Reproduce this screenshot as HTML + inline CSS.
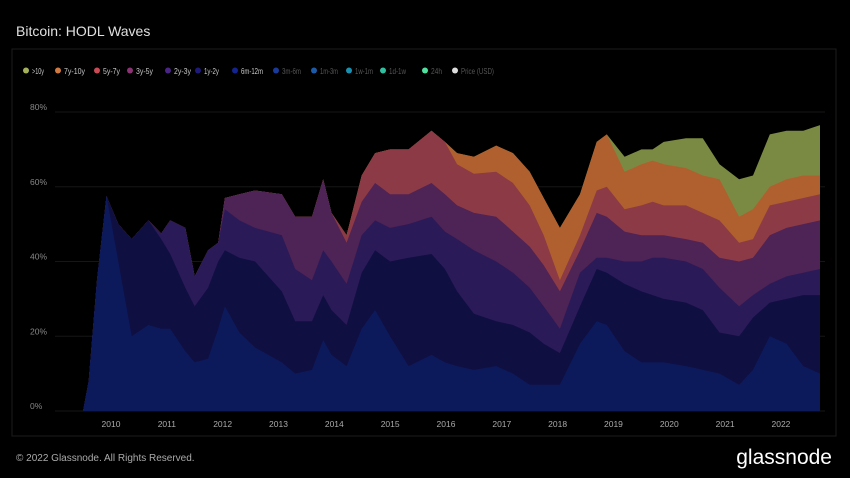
<!DOCTYPE html>
<html><head><meta charset="utf-8"><style>
html,body{margin:0;padding:0;background:#000;}
svg{display:block;font-family:"Liberation Sans",sans-serif;}
</style></head><body>
<svg id="chart" width="850" height="478" viewBox="0 0 850 478">
<rect x="0" y="0" width="850" height="478" fill="#000"/>
<text x="16" y="36" font-size="14" fill="#e0e0e0">Bitcoin: HODL Waves</text>
<rect x="12" y="49" width="824" height="387" fill="none" stroke="#1c1c1c"/>
<g id="legend"></g>
<g id="grid"></g>
<text x="425" y="262" font-size="60" fill="#fff" fill-opacity="0.05" text-anchor="middle">glassnode</text>
<g id="areas"></g>
<g id="xaxis"></g>
<text x="16" y="461" font-size="10" fill="#aaa">© 2022 Glassnode. All Rights Reserved.</text>
<text x="832" y="464" font-size="21" fill="#fff" text-anchor="end">glassnode</text>
</svg>
<script>
const years=[2009.5,2009.6,2009.75,2009.92,2010.13,2010.37,2010.67,2010.9,2011.06,2011.33,2011.5,2011.74,2011.92,2012.04,2012.3,2012.58,2013.06,2013.3,2013.6,2013.8,2013.95,2014.22,2014.49,2014.73,2015.0,2015.33,2015.74,2015.98,2016.2,2016.5,2016.9,2017.2,2017.5,2017.75,2018.04,2018.4,2018.7,2018.88,2019.2,2019.5,2019.7,2019.9,2020.3,2020.6,2020.9,2021.25,2021.5,2021.8,2022.1,2022.4,2022.7];
// cumulative top (%) of each band, bottom to top
const cum6m12m=[0,8,35,57.5,40,20,23,22,22,16,13,14,22,28,21,17,13,10,11,19,15,12,22,27,20,12,15,13,12,11,12,10,7,7,7,18,24,23,16,13,13,13,12,11,10,7,11,20,18,12,10];
const cum1y2y=[0,8,35,57.5,50,46,51,46,42,33,28,33,40,43,41,40,32,24,24,31,27,23,37,43,40,41,42,38,32,26,24,23,21,18,15.5,28,38,37,34,32,31,30,29,27,21,20,25,29,30,31,31];
const cum2y3y=[0,8,35,57.5,50,46,51,47.5,51,49,36,43,45,54,51,49,47,38,35,43,40,34,47,51,49,50,52,48,46,43,40,37,33,28,22,37,41,41,40,40,41,41,40,38,33,28,31,34,36,37,38];
const cum3y5y=[0,8,35,57.5,50,46,51,47.5,51,49,36,43,45,57,58,59,58,52,52,62,53,45,56,61,58,58,61,58,55,53,52,48,44,39,32,43,53,52,48,47,47,47,46,45,41,40,41,47,49,50,51];
const cum5y7y=[0,8,35,57.5,50,46,51,47.5,51,49,36,43,45,57,58,59,58,52,52,62,53,47,63,69,70,70,75,72,66,63.5,64,61,55,47,35,47,59,60,54,55,56,55,55,53,51,45,46,55,56,57,58];
const cum7y10y=[0,8,35,57.5,50,46,51,47.5,51,49,36,43,45,57,58,59,58,52,52,62,53,47,63,69,70,70,75,72,69,68,71,69,64,57,49,58,72,74,64,66,67,66,65,63,62,52,54,60,62,63,63];
const cum10y=[0,8,35,57.5,50,46,51,47.5,51,49,36,43,45,57,58,59,58,52,52,62,53,47,63,69,70,70,75,72,69,68,71,69,64,57,49,58,72,74,68,70,70,72,73,73,66,62,63,74,75,75,76.5];
const yTicks=[0,20,40,60,80];
const xTicks=[2010,2011,2012,2013,2014,2015,2016,2017,2018,2019,2020,2021,2022];
const legendLabels=[">10y","7y-10y","5y-7y","3y-5y","2y-3y","1y-2y","6m-12m","3m-6m","1m-3m","1w-1m","1d-1w","24h","Price (USD)"];

const NS="http://www.w3.org/2000/svg";
const xS=y=>111+(y-2010)*55.83;
const yS=p=>411-p*299/80;
function mk(tag,attrs,parent){const e=document.createElementNS(NS,tag);for(const k in attrs)e.setAttribute(k,attrs[k]);parent.appendChild(e);return e;}

const legendX=[26,58,97,130,168,198,235,276,314,349,383,425,455];
const legendW=[12,21,17,17,17,15,22,19,18,18,17,11,33];
const legendColors=["#a5b05a","#d07a42","#c84a55","#8a3372","#4a2585","#1e1a7a","#13238f","#1a3a9a","#1c5aa8","#1a90b0","#30c0a0","#50e0a0","#dddddd"];
const lg=document.getElementById('legend');
legendLabels.forEach((l,i)=>{
  const g=mk('g',{},lg);
  
  
  mk('circle',{cx:legendX[i],cy:70.5,r:3,fill:legendColors[i]},g);
  const t=mk('text',{x:legendX[i]+6,y:74,'font-size':8.5,fill:i<7?'#c8c8c8':'#555',textLength:legendW[i],lengthAdjust:'spacingAndGlyphs'},g);
  t.textContent=l;
});

const gr=document.getElementById('grid');
yTicks.forEach(v=>{
  const ln=mk('line',{x1:55,x2:825,y1:yS(v),y2:yS(v),stroke:'#161616'},gr);
  
  
  const t=mk('text',{x:30,y:yS(v)-2,'font-size':8.5,fill:'#888'},gr);
  
  
  t.textContent=v+'%';
});

const bands=[
 ["band-10y",cum10y,"#7a8a42"],
 ["band-7y-10y",cum7y10y,"#b0602e"],
 ["band-5y-7y",cum5y7y,"#8c3a46"],
 ["band-3y-5y",cum3y5y,"#4e2355"],
 ["band-2y-3y",cum2y3y,"#2a1a58"],
 ["band-1y-2y",cum1y2y,"#100f42"],
 ["band-6m-12m",cum6m12m,"#0c1a5c"]
];
const ar=document.getElementById('areas');
bands.forEach(b=>{
  let d='M'+xS(years[0])+','+yS(0);
  years.forEach((y,i)=>{d+=' L'+xS(y).toFixed(1)+','+yS(b[1][i]).toFixed(1);});
  d+=' L'+xS(years[years.length-1]).toFixed(1)+','+yS(0)+' Z';
  const p=mk('path',{d:d,fill:b[2]},ar);
  
  
});

const xa=document.getElementById('xaxis');
xTicks.forEach(y=>{
  const t=mk('text',{x:xS(y),y:427,'font-size':8.5,fill:'#aaa','text-anchor':'middle'},xa);
  
  
  t.textContent=y;
});
</script>
</body></html>
